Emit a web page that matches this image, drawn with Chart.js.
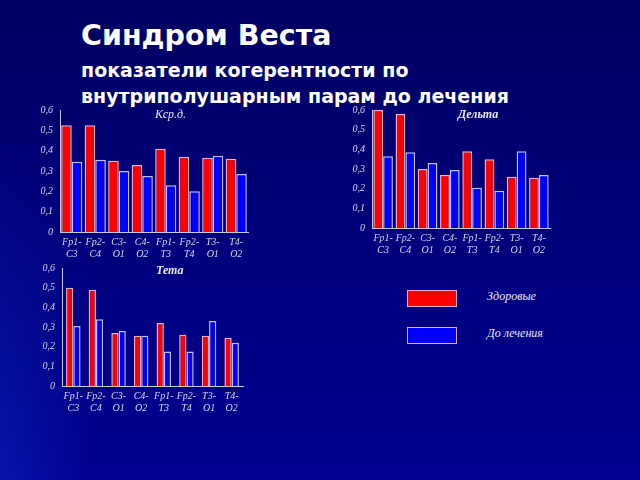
<!DOCTYPE html>
<html>
<head>
<meta charset="utf-8">
<script src="https://cdn.jsdelivr.net/npm/chart.js@4"></script>
<style>
  body { margin: 0; }
  #slide {
    position: relative; width: 640px; height: 480px; overflow: hidden;
    background: linear-gradient(to bottom, #000062 0%, #00007c 50%, #000092 100%);
    font-family: "DejaVu Sans", Verdana, sans-serif;
  }
  #leftglow {
    position: absolute; left: 0; top: 0; width: 90px; height: 480px;
    background: linear-gradient(to right, rgba(20,60,220,0.35), rgba(20,60,220,0));
    -webkit-mask-image: linear-gradient(to bottom, transparent 25%, black 100%);
  }
  .cv { position: absolute; }
  .h1 { position: absolute; left: 81px; top: 19px; color: #fff; font-weight: bold; font-size: 28.5px; }
  .h2 { position: absolute; left: 81px; top: 57px; color: #fff; font-weight: bold; font-size: 19px; line-height: 26px; }
  .ct { position: absolute; color: #e8e8f0; font-family: "Liberation Serif", serif; font-style: italic; font-size: 12px; }
  .lg { position: absolute; left: 407px; width: 50px; height: 17px; border: 1px solid #e0b0d0; box-sizing: border-box; }
  .lt { position: absolute; left: 487px; color: #e8e8f0; font-family: "Liberation Serif", serif; font-style: italic; font-size: 12px; }
</style>
</head>
<body>
<div id="slide">
  <div id="leftglow"></div>
  <div class="h1">Синдром Веста</div>
  <div class="h2">показатели когерентности по<br>внутриполушарным парам до лечения</div>

  <canvas id="c1" class="cv" style="left:20px;top:100px" width="240" height="160"></canvas>
  <canvas id="c2" class="cv" style="left:335px;top:100px" width="225" height="160"></canvas>
  <canvas id="c3" class="cv" style="left:20px;top:258px" width="235" height="162"></canvas>

  <div class="ct" style="left:155px;top:107px">Кср.д.</div>
  <div class="ct" style="left:458px;top:107px;font-weight:bold">Дельта</div>
  <div class="ct" style="left:156px;top:263px;font-weight:bold">Тета</div>

  <div class="lg" style="top:290px;background:#ff0000"></div>
  <div class="lg" style="top:327px;background:#0000ff"></div>
  <div class="lt" style="top:289px">Здоровые</div>
  <div class="lt" style="top:326px">До лечения</div>
</div>

<script>
const pairs = [["Fp1-","C3"],["Fp2-","C4"],["C3-","O1"],["C4-","O2"],["Fp1-","T3"],["Fp2-","T4"],["T3-","O1"],["T4-","O2"]];
const seriesNames = ["Здоровые", "До лечения"];

const kcrHealthy = [0.525, 0.525, 0.35, 0.33, 0.41, 0.37, 0.365, 0.36];
const kcrBefore  = [0.345, 0.355, 0.30, 0.275, 0.23, 0.20, 0.375, 0.285];

const deltaHealthy = [0.60, 0.58, 0.30, 0.27, 0.39, 0.35, 0.26, 0.255];
const deltaBefore  = [0.365, 0.385, 0.33, 0.295, 0.205, 0.19, 0.39, 0.27];

const thetaHealthy = [0.50, 0.49, 0.27, 0.255, 0.32, 0.26, 0.255, 0.245];
const thetaBefore  = [0.305, 0.34, 0.28, 0.255, 0.175, 0.175, 0.33, 0.22];

const tickColor = "#d8d8e8";
const tickFont = { family: "Liberation Serif", style: "italic", size: 10 };

function makeChart(id, healthy, before, opt) {
  new Chart(document.getElementById(id), {
    type: "bar",
    data: {
      labels: pairs,
      datasets: [
        { label: seriesNames[0], data: healthy, backgroundColor: "#ff0000",
          borderColor: "#f0b0c8", borderWidth: 1.5, borderSkipped: "bottom" },
        { label: seriesNames[1], data: before, backgroundColor: "#0000ff",
          borderColor: "#c0c0f8", borderWidth: 1.5, borderSkipped: "bottom" }
      ]
    },
    options: {
      responsive: false,
      animation: false,
      layout: { padding: { top: 7, right: opt.right, left: 0, bottom: 0 } },
      datasets: { bar: { categoryPercentage: opt.cat, barPercentage: 1 } },
      plugins: { legend: { display: false }, tooltip: { enabled: false } },
      scales: {
        x: {
          grid: { display: false, drawTicks: false },
          border: { color: "#c8c8d8", width: 1 },
          ticks: { color: tickColor, font: tickFont, padding: 4, maxRotation: 0, autoSkip: false },
          afterFit: s => { s.height = opt.xh; }
        },
        y: {
          min: 0, max: 0.6,
          grid: { display: false, drawTicks: true, tickLength: 3, tickColor: "#c8c8d8" },
          border: { color: "#c8c8d8", width: 1 },
          ticks: { stepSize: 0.1, color: tickColor, font: tickFont, padding: 4,
                   callback: v => v === 0 ? "0" : v.toFixed(1).replace(".", ",") },
          afterFit: s => { s.width = opt.yw; }
        }
      }
    }
  });
}

makeChart("c1", kcrHealthy, kcrBefore, { yw: 40, xh: 28, right: 12, cat: 0.9 });
makeChart("c2", deltaHealthy, deltaBefore, { yw: 37, xh: 32, right: 10, cat: 0.88 });
makeChart("c3", thetaHealthy, thetaBefore, { yw: 42, xh: 34, right: 12, cat: 0.64 });
</script>
</body>
</html>
